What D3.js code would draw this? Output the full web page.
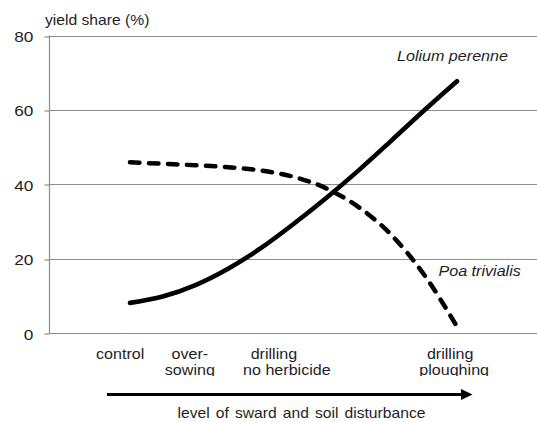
<!DOCTYPE html>
<html>
<head>
<meta charset="utf-8">
<script src="https://cdn.jsdelivr.net/npm/d3@7"></script>
<style>
  html, body { margin: 0; padding: 0; background: #fff; }
  svg { display: block; }
  text { font-family: "Liberation Sans", Arial, sans-serif; fill: #1e1e1e; }
</style>
</head>
<body>
<svg id="chart" width="537" height="422"></svg>
<script>
// ---- data ----
const disturbanceLevels = [0, 10, 20, 30, 40, 50, 60, 70, 80, 90, 100];
const loliumValues = [8.1, 9.8, 12.9, 17.3, 22.8, 29.3, 36.3, 43.8, 51.8, 59.9, 67.7];
const poaValues    = [45.9, 45.5, 45.1, 44.6, 43.7, 42.0, 38.9, 33.8, 26.3, 15.6, 1.7];
const seriesNames = ["Lolium perenne", "Poa trivialis"];
const yTicks = [0, 20, 40, 60, 80];
const categoryLines = [["control"], ["over-", "sowing"], ["drilling", "no herbicide"], ["drilling", "ploughing"]];
const categoryLevels = [-3, 18.3, 44, 97.9];
const yLabel = "yield share (%)";
const xCaption = "level of sward and soil disturbance";

// ---- layout ----
const svg = d3.select("#chart");
const W = 537;
const axisX = 49;
const x = d3.scaleLinear().domain([0, 100]).range([130, 457]);
const y = d3.scaleLinear().domain([0, 80]).range([333, 35.5]);
const SX = 1.15; // horizontal text stretch of the reference

// gridlines
svg.append("g")
  .selectAll("line").data(yTicks).join("line")
  .attr("x1", axisX).attr("x2", W)
  .attr("y1", d => Math.round(y(d)) + 0.5).attr("y2", d => Math.round(y(d)) + 0.5)
  .attr("stroke", "#8c8c8c").attr("stroke-width", 1.2);

// y axis
const yAxis = svg.append("g")
  .attr("transform", `translate(${axisX + 0.5},0)`)
  .call(d3.axisLeft(y).tickValues(yTicks).tickSize(5).tickPadding(9).tickFormat(d3.format("d")));
yAxis.select(".domain").attr("stroke", "#8c8c8c").attr("stroke-width", 1.2)
  .attr("d", `M0,${y(80)}V${y(0)}`);
yAxis.selectAll(".tick line").attr("stroke", "#8c8c8c").attr("stroke-width", 1.2)
  .attr("transform", (d) => `translate(0,${Math.round(y(d)) + 0.5 - y(d)})`);
yAxis.selectAll(".tick text")
  .attr("font-size", 15)
  .attr("font-family", "Liberation Sans, Arial, sans-serif")
  .attr("fill", "#1e1e1e")
  .attr("transform", `scale(${SX},1)`)
  .attr("dy", "0.4em");

// y label
svg.append("text")
  .attr("transform", `translate(45,25) scale(${SX - 0.07},1)`)
  .attr("font-size", 14.5)
  .text(yLabel);

// lines
const line = d3.line()
  .x((d, i) => x(disturbanceLevels[i]))
  .y(d => y(d))
  .curve(d3.curveMonotoneX);

svg.append("path").datum(poaValues)
  .attr("d", line)
  .attr("fill", "none").attr("stroke", "#000").attr("stroke-width", 4.5)
  .attr("stroke-linecap", "round").attr("stroke-dasharray", "9.5,9.5");

svg.append("path").datum(loliumValues)
  .attr("d", line)
  .attr("fill", "none").attr("stroke", "#000").attr("stroke-width", 4.6)
  .attr("stroke-linecap", "round").attr("stroke-linejoin", "round");

// series labels
svg.append("text")
  .attr("transform", `translate(397,61) scale(${SX},1)`)
  .attr("font-size", 14).attr("font-style", "italic")
  .text(seriesNames[0]);
svg.append("text")
  .attr("transform", `translate(438.5,276) scale(${SX},1)`)
  .attr("font-size", 14).attr("font-style", "italic")
  .text(seriesNames[1]);

// category labels (clipped at bottom as in reference)
svg.append("clipPath").attr("id", "catclip")
  .append("rect").attr("x", 0).attr("y", 0).attr("width", W).attr("height", 376);

const secondLineShift = [0, 0, 13, 4];
const cats = svg.append("g").attr("clip-path", "url(#catclip)");
categoryLines.forEach((lines, ci) => {
  lines.forEach((t, li) => {
    cats.append("text")
      .attr("transform", `translate(${x(categoryLevels[ci]) + (li ? secondLineShift[ci] : 0)},${359 + li * 15.5}) scale(${SX},1)`)
      .attr("text-anchor", "middle")
      .attr("font-size", 14)
      .text(t);
  });
});

// arrow
const ay = 394.5;
svg.append("line")
  .attr("x1", 107).attr("x2", 463).attr("y1", ay).attr("y2", ay)
  .attr("stroke", "#000").attr("stroke-width", 3.2);
svg.append("path")
  .attr("d", `M461,${ay - 5.5}L472.5,${ay}L461,${ay + 5.5}Z`)
  .attr("fill", "#000");

// caption
svg.append("text")
  .attr("transform", `translate(301.5,418) scale(${SX - 0.03},1)`)
  .attr("text-anchor", "middle")
  .attr("font-size", 14)
  .attr("word-spacing", 1.5)
  .text(xCaption);
</script>
</body>
</html>
